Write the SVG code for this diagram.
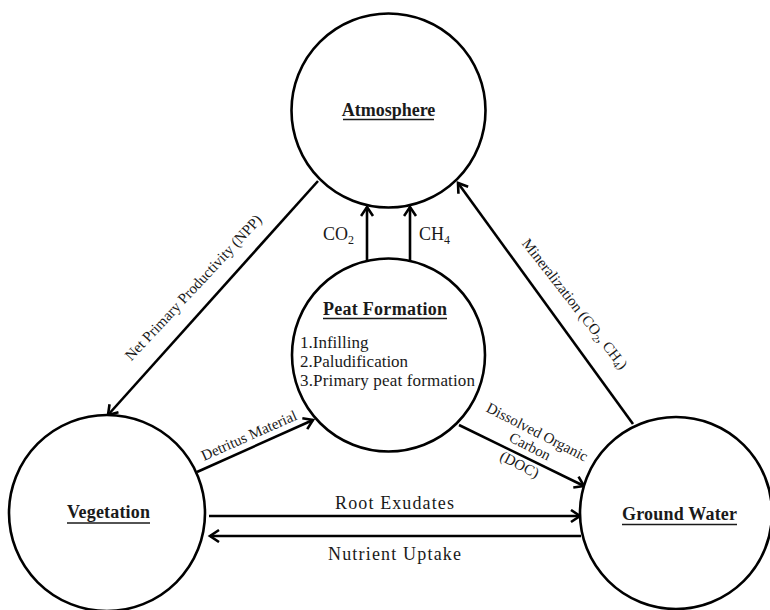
<svg xmlns="http://www.w3.org/2000/svg" width="770" height="610" viewBox="0 0 770 610">
<style>
.node{fill:#fff;stroke:#000;stroke-width:2.6}
.conn{stroke:#000;stroke-width:2.6;fill:none;marker-end:url(#arr)}
.t{font-family:"Liberation Serif","Times New Roman",serif;fill:#1a1a1a}
.b{font-weight:bold;font-size:18px;text-anchor:middle}
.ul{stroke:#1a1a1a;stroke-width:1.4}
</style>
<defs>
<marker id="arr" markerUnits="userSpaceOnUse" markerWidth="16" markerHeight="16" refX="11" refY="7" orient="auto">
<path d="M2,1 L11,7 L2,13" fill="none" stroke="#000" stroke-width="2.6"/>
</marker>
</defs>
<g id="connectors">
<line class="conn" x1="318" y1="181" x2="108" y2="415"/>
<line class="conn" x1="633" y1="424" x2="458" y2="183"/>
<line class="conn" x1="367" y1="261" x2="367" y2="207"/>
<line class="conn" x1="410" y1="261" x2="410" y2="207"/>
<line class="conn" x1="197" y1="472" x2="313" y2="420"/>
<line class="conn" x1="459" y1="425" x2="584" y2="486"/>
<line class="conn" x1="209" y1="516" x2="580" y2="516"/>
<line class="conn" x1="581" y1="536" x2="210" y2="536"/>
</g>
<g id="labels" class="t">
<text transform="rotate(-47 197 291)" x="197" y="291" font-size="15" text-anchor="middle">Net Primary Productivity (NPP)</text>
<text transform="rotate(52 571 307)" x="571" y="307" font-size="15" text-anchor="middle">Mineralization (CO<tspan font-size="10" dy="3">2</tspan><tspan dy="-3">, CH</tspan><tspan font-size="10" dy="3">4</tspan><tspan dy="-3">)</tspan></text>
<text x="323" y="240" font-size="18">CO<tspan font-size="12" dy="4">2</tspan></text>
<text x="419" y="240" font-size="18">CH<tspan font-size="12" dy="4">4</tspan></text>
<text transform="rotate(-24 251 440)" x="251" y="440" font-size="15" text-anchor="middle">Detritus Material</text>
<g transform="rotate(27 535 436.5)" font-size="15" text-anchor="middle">
<text x="535" y="436.5">Dissolved Organic</text>
<text x="535" y="452.5">Carbon</text>
<text x="534" y="473.5">(DOC)</text>
</g>
<text x="394.5" y="509" font-size="18" text-anchor="middle" textLength="119" lengthAdjust="spacing">Root Exudates</text>
<text x="394.5" y="560" font-size="18" text-anchor="middle" textLength="133" lengthAdjust="spacing">Nutrient Uptake</text>
</g>
<g id="atmosphere">
<circle class="node" cx="388.5" cy="110.5" r="97"/>
<text class="t b" x="388.5" y="116">Atmosphere</text>
<line class="ul" x1="343" y1="119.5" x2="434" y2="119.5"/>
</g>
<g id="peat-formation">
<circle class="node" cx="388.5" cy="355" r="96.5"/>
<text class="t b" x="385" y="315" textLength="124" lengthAdjust="spacing">Peat Formation</text>
<line class="ul" x1="323" y1="318.5" x2="447" y2="318.5"/>
<text class="t" x="300" y="348" font-size="17">1.Infilling</text>
<text class="t" x="300" y="367" font-size="17">2.Paludification</text>
<text class="t" x="300" y="386" font-size="17" textLength="175" lengthAdjust="spacing">3.Primary peat formation</text>
</g>
<g id="vegetation">
<circle class="node" cx="107" cy="513" r="98"/>
<text class="t b" x="108.5" y="518" textLength="83" lengthAdjust="spacing">Vegetation</text>
<line class="ul" x1="67" y1="523" x2="150" y2="523"/>
</g>
<g id="ground-water">
<circle class="node" cx="676" cy="513" r="96"/>
<text class="t b" x="679.5" y="520" textLength="115" lengthAdjust="spacing">Ground Water</text>
<line class="ul" x1="622" y1="524.5" x2="737" y2="524.5"/>
</g>
</svg>
